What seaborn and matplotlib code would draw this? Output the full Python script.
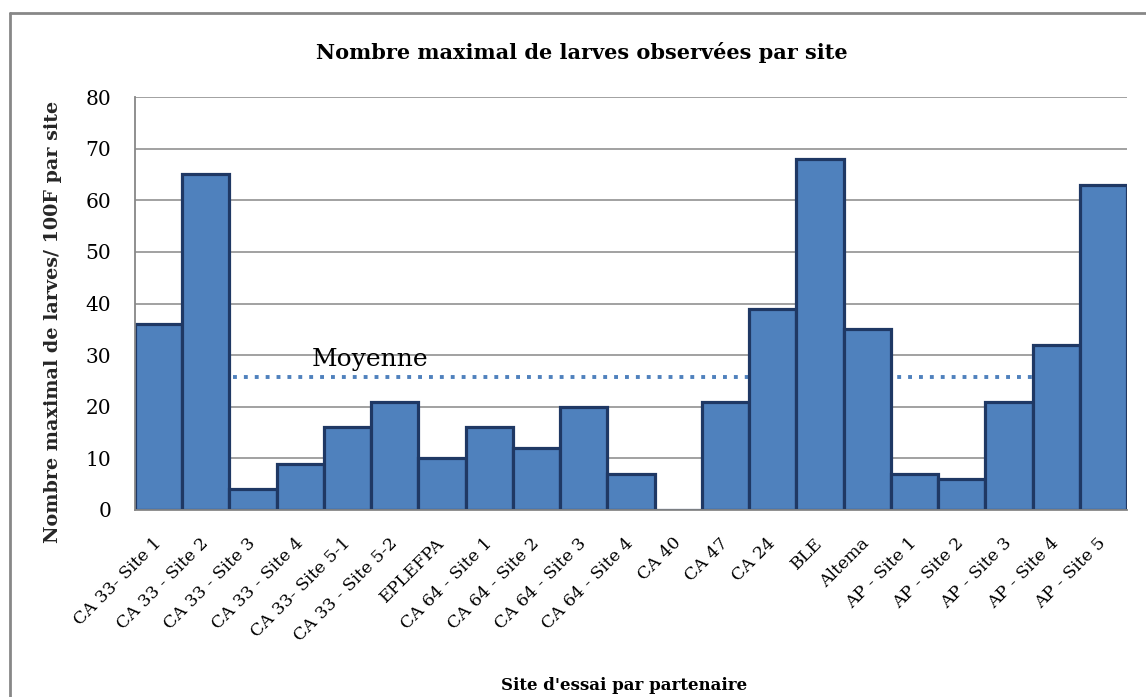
import numpy as np
import pandas as pd
import seaborn as sns
import matplotlib.pyplot as plt
from matplotlib.lines import Line2D

sites = [
    'CA 33- Site 1', 'CA 33 - Site 2', 'CA 33 - Site 3', 'CA 33 - Site 4',
    'CA 33- Site 5-1', 'CA 33 - Site 5-2', 'EPLEFPA', 'CA 64 - Site 1',
    'CA 64 - Site 2', 'CA 64 - Site 3', 'CA 64 - Site 4', 'CA 40', 'CA 47',
    'CA 24', 'BLE', 'Altema', 'AP - Site 1', 'AP - Site 2', 'AP - Site 3',
    'AP - Site 4', 'AP - Site 5',
]
larves = [36, 65, 4, 9, 16, 21, 10, 16, 12, 20, 7, 0, 21, 39, 68, 35, 7, 6,
          21, 32, 63]
moyenne = 25.7
y_ticks = [0, 10, 20, 30, 40, 50, 60, 70, 80]

BAR = '#4F81BD'
EDGE = '#1F3864'
GREY = '#878787'


def make_plot(df):

    fig = plt.figure(figsize=(11.46, 6.97), dpi=100)
    ax = fig.add_axes([0.1178, 0.2683, 0.8656, 0.5925])

    # mean line sits behind the bars
    ax.axhline(moyenne, color=BAR, lw=2.8, ls=(0, (1, 1.8)), zorder=0.8)

    sns.barplot(data=df, x='site', y='larves', color=BAR, saturation=1,
                width=1.0, edgecolor=EDGE, linewidth=2.3, ax=ax, zorder=1)

    ax.set_xlim(-0.5, len(sites) - 0.5)
    ax.set_ylim(0, 80)
    ax.set_yticks(y_ticks)
    ax.yaxis.grid(True, color=GREY, lw=1.1)
    ax.set_axisbelow(True)

    for s in ['top', 'right']:
        ax.spines[s].set_visible(False)
    for s in ['left', 'bottom']:
        ax.spines[s].set_color(GREY)
        ax.spines[s].set_linewidth(1.3)

    ax.set_xticks(np.arange(-0.5, len(sites), 1), minor=True)
    ax.tick_params(axis='x', which='minor', length=5, width=1.1, color=GREY)
    ax.tick_params(axis='x', which='major', length=0, pad=22)
    ax.tick_params(axis='y', length=5, width=1.1, color=GREY, pad=12,
                   labelsize=14.5)
    ax.set_xticks(range(len(sites)))
    ax.set_xticklabels(sites, rotation=45, ha='right', va='center',
                       rotation_mode='anchor', fontsize=12.5)

    ax.set_xlabel('')
    ax.set_ylabel('Nombre maximal de larves/ 100F par site', fontsize=13.8,
                  fontweight='bold')
    ax.yaxis.set_label_coords(-0.0736, 0.456)

    fig.text(0.5445, 0.017, "Site d'essai par partenaire", ha='center',
             va='center', fontsize=12, fontweight='bold')
    fig.text(0.508, 0.925, 'Nombre maximal de larves observées par site',
             ha='center', va='center', fontsize=15, fontweight='bold')
    ax.text(3.25, moyenne + 1.2, 'Moyenne', fontsize=18, va='bottom')

    # outer chart frame (only top and left edges fall inside the image)
    fig.add_artist(Line2D([0.0087, 1.0], [0.9813, 0.9813], color=GREY,
                          lw=2, transform=fig.transFigure))
    fig.add_artist(Line2D([0.0087, 0.0087], [0.0, 0.9813], color=GREY,
                          lw=2, transform=fig.transFigure))

    fig.savefig('out.png', dpi=100)
    plt.close()


if __name__ == '__main__':
    sns.set_style('white')
    plt.rcParams['font.family'] = ['DejaVu Serif']
    plt.rcParams['text.color'] = 'black'
    plt.rcParams['xtick.color'] = 'black'
    plt.rcParams['ytick.color'] = 'black'
    df = pd.DataFrame({'site': sites, 'larves': larves})
    make_plot(df)
